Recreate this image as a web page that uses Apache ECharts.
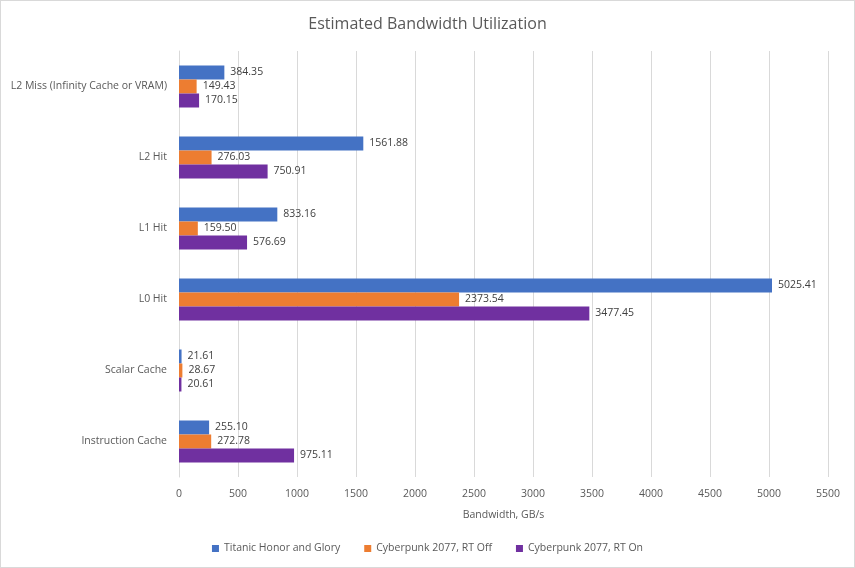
<!DOCTYPE html>
<html>
<head>
<meta charset="utf-8">
<script src="https://cdn.jsdelivr.net/npm/echarts@6/dist/echarts.min.js"></script>
<style>
  html, body { margin: 0; padding: 0; background: #fff; }
  #chart { width: 853px; height: 566px; border: 1px solid #d9d9d9; }
</style>
</head>
<body>
<div id="chart"></div>
<script>
  // categories listed top to bottom (axis is inverted)
  const categories = [
    'L2 Miss (Infinity Cache or VRAM)',
    'L2 Hit',
    'L1 Hit',
    'L0 Hit',
    'Scalar Cache',
    'Instruction Cache'
  ];
  const titanic = [384.35, 1561.88, 833.16, 5025.41, 21.61, 255.10];
  const rtOff = [149.43, 276.03, 159.50, 2373.54, 28.67, 272.78];
  const rtOn = [170.15, 750.91, 576.69, 3477.45, 20.61, 975.11];
  const seriesNames = ['Titanic Honor and Glory', 'Cyberpunk 2077, RT Off', 'Cyberpunk 2077, RT On'];
  const colors = ['#4472c4', '#ed7d31', '#7030a0'];

  const font = '"Segoe UI", "Open Sans", "DejaVu Sans", sans-serif';

  function makeSeries(name, data, color) {
    return {
      name: name,
      type: 'bar',
      data: data,
      barWidth: 14,
      barGap: '0%',
      itemStyle: { color: color },
      label: {
        show: true,
        position: 'right',
        distance: 6,
        color: '#404040',
        fontSize: 10.5,
        fontFamily: font,
        formatter: function (p) { return p.value.toFixed(2); }
      }
    };
  }

  const chart = echarts.init(document.getElementById('chart'));
  chart.setOption({
    animation: false,
    color: colors,
    title: {
      text: 'Estimated Bandwidth Utilization',
      left: 'center',
      top: 10,
      textStyle: { color: '#595959', fontSize: 16, fontWeight: 'normal', fontFamily: font }
    },
    legend: {
      bottom: 8,
      itemWidth: 7,
      itemHeight: 7,
      itemGap: 24,
      icon: 'rect',
      textStyle: { color: '#595959', fontSize: 10.5, fontFamily: font }
    },
    grid: { left: 178, right: 26, top: 50, bottom: 90, containLabel: false },
    xAxis: {
      type: 'value',
      min: 0,
      max: 5500,
      interval: 500,
      name: 'Bandwidth, GB/s',
      nameLocation: 'middle',
      nameGap: 33,
      nameTextStyle: { color: '#595959', fontSize: 10.5, fontFamily: font },
      axisLine: { show: false },
      axisTick: { show: false },
      axisLabel: {
        color: '#595959', fontSize: 10.5, margin: 12, fontFamily: font,
        formatter: function (v) { return String(v); }
      },
      splitLine: { lineStyle: { color: '#d9d9d9' } }
    },
    yAxis: {
      type: 'category',
      data: categories,
      inverse: true,
      axisLine: { lineStyle: { color: '#d9d9d9' } },
      axisTick: { show: false },
      axisLabel: { color: '#595959', fontSize: 10.5, margin: 12, fontFamily: font }
    },
    series: [
      makeSeries(seriesNames[0], titanic, colors[0]),
      makeSeries(seriesNames[1], rtOff, colors[1]),
      makeSeries(seriesNames[2], rtOn, colors[2])
    ]
  });
</script>
</body>
</html>
